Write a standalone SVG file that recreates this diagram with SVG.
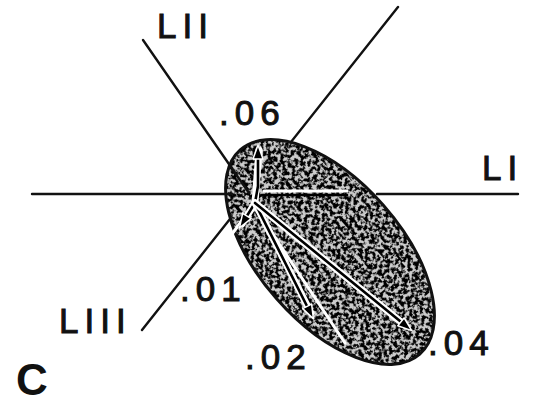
<svg xmlns="http://www.w3.org/2000/svg" width="538" height="406" viewBox="0 0 538 406">
<style>
.ax{stroke:#111;stroke-width:2.4;fill:none;stroke-linecap:round}
.halo{stroke:#fff;stroke-width:7;fill:none;stroke-linecap:round}
.wl{stroke:#fff;stroke-width:3;fill:none;stroke-linecap:round}
.vec{stroke:#000;stroke-width:2.6;fill:none;stroke-linecap:round}
.lbl{font-family:"Liberation Sans",Arial,sans-serif;font-size:35px;letter-spacing:6px;fill:#111;stroke:#111;stroke-width:1}
.big{font-family:"Liberation Sans",Arial,sans-serif;font-size:44px;font-weight:bold;fill:#111}
</style>
<defs>
<filter id="stipple" x="-10%" y="-10%" width="120%" height="120%">
<feTurbulence type="fractalNoise" baseFrequency="0.28" numOctaves="3" seed="7" result="noise"/>
<feColorMatrix in="noise" type="matrix" values="0 0 0 0 0  0 0 0 0 0  0 0 0 0 0  -10 0 0 0 5.6" result="dots"/>
<feComposite in="dots" in2="SourceAlpha" operator="in"/>
</filter>
<marker id="ah" viewBox="-2 -2 18 14" refX="13" refY="5" markerWidth="18" markerHeight="14" markerUnits="userSpaceOnUse" orient="auto">
<path d="M0,0 L14,5 L0,10 Z" fill="#000" stroke="#fff" stroke-width="1.5" stroke-linejoin="round"/>
</marker>
</defs>
<rect width="538" height="406" fill="#fff"/>
<g id="axes-back">
<line class="ax" x1="142" y1="330" x2="398" y2="7"/>
</g>
<g id="loop">
<g transform="translate(330,252) rotate(48.7)">
<ellipse cx="0" cy="0" rx="136" ry="71" fill="#ccc"/>
<ellipse cx="0" cy="0" rx="136" ry="71" fill="#000" filter="url(#stipple)"/>
<ellipse cx="0" cy="0" rx="136" ry="71" fill="none" stroke="#111" stroke-width="3"/>
</g>
</g>
<g id="connectors">
<line class="ax" x1="32" y1="194" x2="232" y2="194"/>
<line class="ax" x1="377" y1="194" x2="518" y2="194"/>
<line class="ax" x1="143" y1="40" x2="249" y2="193"/>
<line class="wl" x1="264" y1="191" x2="347" y2="191"/>
<line class="vec" x1="262" y1="195" x2="347" y2="195" stroke-width="1.8"/>
<line class="wl" x1="258" y1="212" x2="345" y2="343"/>
<line class="wl" x1="250" y1="210" x2="226" y2="242"/>
<line class="halo" x1="255" y1="203" x2="259" y2="150"/>
<path class="vec" d="M255,203 L258,186 L258,146" marker-end="url(#ah)"/>
<line class="halo" x1="255" y1="203" x2="242" y2="224"/>
<line class="vec" x1="255" y1="203" x2="240" y2="227" marker-end="url(#ah)"/>
<line class="halo" x1="255" y1="203" x2="311" y2="313"/>
<line class="vec" x1="255" y1="203" x2="313" y2="318" marker-end="url(#ah)"/>
<line class="halo" x1="255" y1="203" x2="406" y2="326"/>
<line class="vec" x1="255" y1="203" x2="411" y2="330" marker-end="url(#ah)"/>
</g>
<g id="labels">
<text class="lbl" x="157" y="38">LII</text>
<text class="lbl" x="482" y="180">LI</text>
<text class="lbl" x="59" y="333">LIII</text>
<text class="lbl" x="219" y="125">.06</text>
<text class="lbl" x="180" y="301">.01</text>
<text class="lbl" x="245" y="369">.02</text>
<text class="lbl" x="428" y="355">.04</text>
<text class="big" x="16" y="395">C</text>
</g>
</svg>
